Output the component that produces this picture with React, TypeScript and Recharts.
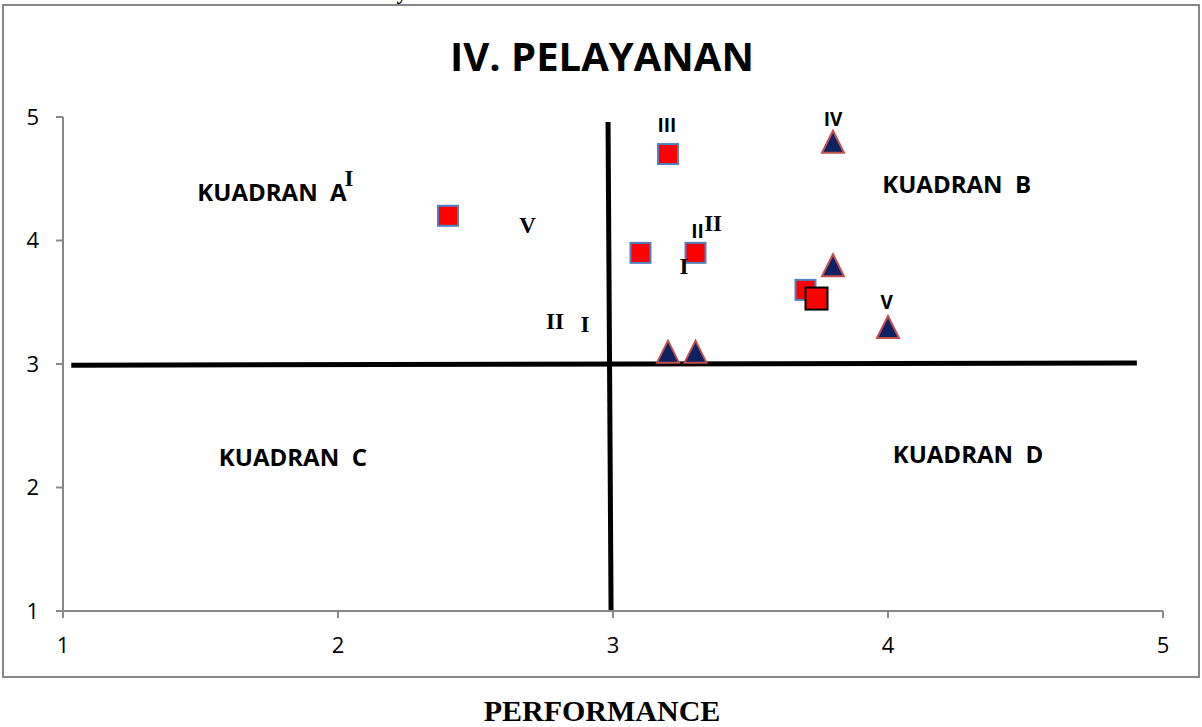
import React from 'react';
import { ScatterChart, Scatter, XAxis, YAxis, ReferenceLine } from 'recharts';

// axis ticks
const xTicks = [1, 2, 3, 4, 5];
const yTicks = [1, 2, 3, 4, 5];

// red squares with blue border
const squaresBlue = [
  { x: 2.4, y: 4.2 },
  { x: 3.1, y: 3.9 },
  { x: 3.2, y: 4.7 },
  { x: 3.3, y: 3.9 },
  { x: 3.7, y: 3.6 },
];

// red square with black border
const squaresBlack = [{ x: 3.74, y: 3.53 }];

// navy triangles
const triangles = [
  { x: 3.8, y: 4.8 },
  { x: 3.8, y: 3.8 },
  { x: 4.0, y: 3.3 },
  { x: 3.2, y: 3.1 },
  { x: 3.3, y: 3.1 },
];

// quadrant names
const quadrantLabels = [
  { x: 1.76, y: 4.40, text: 'KUADRAN  A' },
  { x: 4.25, y: 4.458, text: 'KUADRAN  B' },
  { x: 1.836, y: 2.247, text: 'KUADRAN  C' },
  { x: 4.291, y: 2.279, text: 'KUADRAN  D' },
];

// roman numerals, serif
const serifLabels = [
  { x: 2.04, y: 4.506, text: 'I' },
  { x: 2.689, y: 4.121, text: 'V' },
  { x: 2.789, y: 3.344, text: 'II' },
  { x: 2.898, y: 3.316, text: 'I' },
  { x: 3.364, y: 4.138, text: 'II' },
  { x: 3.258, y: 3.789, text: 'I' },
];

// roman numerals, sans
const sansLabels = [
  { x: 3.196, y: 4.939, text: 'III' },
  { x: 3.80, y: 4.98, text: 'IV' },
  { x: 3.995, y: 3.498, text: 'V' },
  { x: 3.307, y: 4.077, text: 'II' },
];

// quadrant divider lines
const hLine = [{ x: 1.03, y: 2.99 }, { x: 4.905, y: 3.008 }];
const vLine = [{ x: 2.982, y: 4.96 }, { x: 2.993, y: 1 }];

const BlueSquare = (props: any) => {
  const { cx, cy } = props;
  return <rect x={cx - 10} y={cy - 10} width={20} height={20} fill="#FF0000" stroke="#4F81BD" strokeWidth={2} />;
};

const BlackSquare = (props: any) => {
  const { cx, cy } = props;
  return <rect x={cx - 11} y={cy - 11} width={22} height={22} fill="#FF0000" stroke="#000" strokeWidth={2} />;
};

const Triangle = (props: any) => {
  const { cx, cy } = props;
  return (
    <polygon
      points={`${cx},${cy - 11} ${cx + 11},${cy + 11} ${cx - 11},${cy + 11}`}
      fill="#0F2063"
      stroke="#C0504D"
      strokeWidth={2}
    />
  );
};

const makeText = (family: string, size: number) => (props: any) => {
  const { cx, cy, payload } = props;
  return (
    <text
      x={cx}
      y={cy}
      textAnchor="middle"
      dominantBaseline="central"
      fontFamily={family}
      fontWeight="bold"
      fontSize={size}
      fill="#000"
      style={{ whiteSpace: 'pre' }}
    >
      {payload.text}
    </text>
  );
};

const QuadText = makeText('"Open Sans", sans-serif', 24);
const SerifText = makeText('"Liberation Serif", serif', 23);
const SansText = makeText('"Open Sans", sans-serif', 19);

// tick labels drawn by hand so the size sticks
const XTick = (props: any) => {
  const { x, y, payload } = props;
  return (
    <text x={x} y={y} dy="0.71em" textAnchor="middle" fontFamily='"Open Sans", sans-serif' fontSize={22} fill="#000">
      {payload.value}
    </text>
  );
};

const YTick = (props: any) => {
  const { x, y, payload } = props;
  return (
    <text x={x} y={y} dy="0.355em" textAnchor="end" fontFamily='"Open Sans", sans-serif' fontSize={22} fill="#000">
      {payload.value}
    </text>
  );
};

export default function App() {
  return (
    <div style={{ position: 'absolute', left: 0, top: 0, width: 1202, height: 727, background: '#fff' }}>
      <ScatterChart width={1202} height={727} margin={{ top: 117, right: 39, bottom: 86, left: 0 }}>
        <XAxis
          type="number"
          dataKey="x"
          domain={[1, 5]}
          ticks={xTicks}
          stroke="#888"
          strokeWidth={2}
          tickSize={7}
          tickMargin={19}
          tick={<XTick />}
          height={30}
        />
        <YAxis
          type="number"
          dataKey="y"
          domain={[1, 5]}
          ticks={yTicks}
          stroke="#888"
          strokeWidth={2}
          tickSize={7}
          tickMargin={17}
          tick={<YTick />}
          width={63}
        />
        <ReferenceLine segment={hLine} stroke="#000" strokeWidth={5} />
        <ReferenceLine segment={vLine} stroke="#000" strokeWidth={5} />
        <Scatter data={squaresBlue} shape={BlueSquare} isAnimationActive={false} />
        <Scatter data={squaresBlack} shape={BlackSquare} isAnimationActive={false} />
        <Scatter data={triangles} shape={Triangle} isAnimationActive={false} />
        <Scatter data={quadrantLabels} shape={QuadText} isAnimationActive={false} />
        <Scatter data={serifLabels} shape={SerifText} isAnimationActive={false} />
        <Scatter data={sansLabels} shape={SansText} isAnimationActive={false} />
      </ScatterChart>
      <svg width={1202} height={727} style={{ position: 'absolute', left: 0, top: 0, pointerEvents: 'none' }}>
        <rect x={3} y={5} width={1196} height={672} fill="none" stroke="#888" strokeWidth={2} />
        <text x={402} y={-1} textAnchor="middle" fontFamily='"Liberation Serif", serif' fontSize={22} fontWeight="bold">y</text>
        <text x={602} y={71} textAnchor="middle" fontFamily='"Open Sans", sans-serif' fontWeight="bold" fontSize={40}>
          IV. PELAYANAN
        </text>
        <text x={602} y={721} textAnchor="middle" fontFamily='"Liberation Serif", serif' fontWeight="bold" fontSize={30}>
          PERFORMANCE
        </text>
      </svg>
    </div>
  );
}
